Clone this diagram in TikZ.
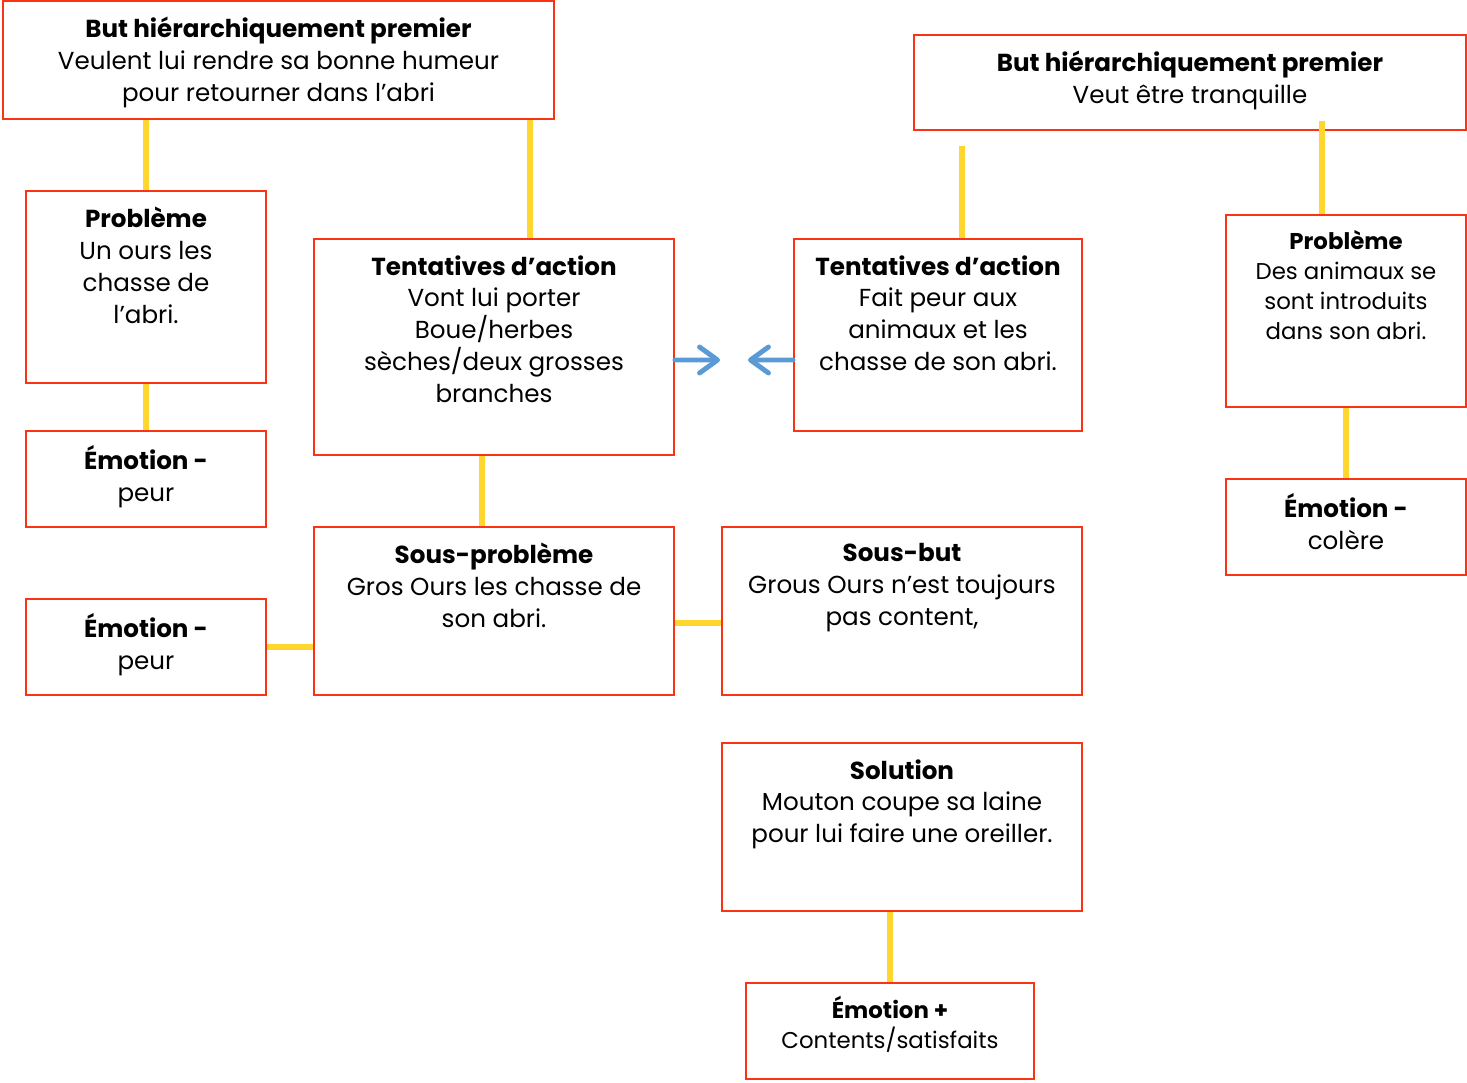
\documentclass[tikz,border=0pt]{standalone}
\usepackage{fontspec}
\setmainfont{Poppins}
\usepackage{tikz}
\usetikzlibrary{arrows.meta}

\definecolor{boxred}{RGB}{250,52,18}
\definecolor{linkyellow}{RGB}{255,214,46}
\definecolor{arrowblue}{RGB}{91,155,213}

\tikzset{
    box/.style={draw=boxred, line width=1.1pt, fill=white, inner sep=0pt},
    txt/.style={align=center, anchor=north, inner sep=0pt, font=\fontsize{14}{18.1}\selectfont},
    smalltxt/.style={txt, font=\fontsize{13}{17}\selectfont},
    link/.style={draw=linkyellow, line width=3.3pt},
    push/.style={draw=arrowblue, line width=2.8pt, line cap=round,
        -{Straight Barb[round, length=0.36cm, width=0.52cm]}}
}

\begin{document}
\begin{tikzpicture}[x=0.02cm, y=-0.02cm]
        \useasboundingbox (0,0) rectangle (1467,1082);

        % left story
        \node[box, minimum width=11.02cm, minimum height=2.36cm] (but1) at (278.5,60) {};
        \node[box, minimum width=4.8cm, minimum height=3.84cm] (pb1) at (146,287) {};
        \node[box, minimum width=4.8cm, minimum height=1.92cm] (emo1) at (146,479) {};
        \node[box, minimum width=7.2cm, minimum height=4.32cm] (tent1) at (494,347) {};
        \node[box, minimum width=7.2cm, minimum height=3.36cm] (sousprob) at (494,611) {};
        \node[box, minimum width=4.8cm, minimum height=1.92cm] (emo2) at (146,647) {};
        \node[box, minimum width=7.2cm, minimum height=3.36cm] (sousbut) at (902,611) {};
        \node[box, minimum width=7.2cm, minimum height=3.36cm] (sol) at (902,827) {};
        \node[box, minimum width=5.76cm, minimum height=1.92cm] (emo4) at (890,1031) {};

        % right story
        \node[box, minimum width=11.04cm, minimum height=1.9cm] (but2) at (1190,82.5) {};
        \node[box, minimum width=5.76cm, minimum height=3.84cm] (tent2) at (938,335) {};
        \node[box, minimum width=4.8cm, minimum height=3.84cm] (pb2) at (1346,311) {};
        \node[box, minimum width=4.8cm, minimum height=1.92cm] (emo3) at (1346,527) {};

        % texts
        \node[txt] (but1t) at ([yshift=-0.34cm]but1.north)
            {\textbf{But hiérarchiquement premier}\\Veulent lui rendre sa bonne humeur\\pour retourner dans l’abri};
        \node[txt] (pb1t) at ([yshift=-0.34cm]pb1.north)
            {\textbf{Problème}\\Un ours les\\chasse de\\l’abri.};
        \node[txt] (emo1t) at ([yshift=-0.3cm]emo1.north) {\textbf{Émotion -}\\peur};
        \node[txt] (tent1t) at ([yshift=-0.34cm]tent1.north)
            {\textbf{Tentatives d’action}\\Vont lui porter\\Boue/herbes\\sèches/deux grosses\\branches};
        \node[txt] (sousprobt) at ([yshift=-0.34cm]sousprob.north)
            {\textbf{Sous-problème}\\Gros Ours les chasse de\\son abri.};
        \node[txt] (emo2t) at ([yshift=-0.3cm]emo2.north) {\textbf{Émotion -}\\peur};
        \node[txt] (sousbutt) at ([yshift=-0.34cm]sousbut.north)
            {\textbf{Sous-but}\\Grous Ours n’est toujours\\pas content,};
        \node[txt] (solt) at ([yshift=-0.34cm]sol.north)
            {\textbf{Solution}\\Mouton coupe sa laine\\pour lui faire une oreiller.};
        \node[smalltxt] (emo4t) at ([yshift=-0.28cm]emo4.north) {\textbf{Émotion +}\\Contents/satisfaits};
        \node[txt] (but2t) at ([yshift=-0.34cm]but2.north)
            {\textbf{But hiérarchiquement premier}\\Veut être tranquille};
        \node[txt] (tent2t) at ([yshift=-0.34cm]tent2.north)
            {\textbf{Tentatives d’action}\\Fait peur aux\\animaux et les\\chasse de son abri.};
        \node[smalltxt] (pb2t) at ([yshift=-0.32cm]pb2.north)
            {\textbf{Problème}\\Des animaux se\\sont introduits\\dans son abri.};
        \node[txt] (emo3t) at ([yshift=-0.3cm]emo3.north) {\textbf{Émotion -}\\colère};

        % yellow links
        \draw[link] (pb1.north) -- (pb1.north |- but1.south);
        \draw[link] ([xshift=0.72cm]tent1.north) -- ([xshift=0.72cm]tent1.north |- but1.south);
        \draw[link] (pb1.south) -- (emo1.north);
        \draw[link] ([xshift=-0.24cm]tent1.south) -- ([xshift=-0.24cm]sousprob.north);
        \draw[link] (emo2.east) -- (emo2.east -| sousprob.west);
        \draw[link] ([yshift=-0.24cm]sousprob.east) -- ([yshift=-0.24cm]sousprob.east -| sousbut.west);
        \draw[link, shorten >=0.3cm] ([xshift=0.48cm]tent2.north) -- ([xshift=0.48cm]tent2.north |- but2.south);
        \draw[link, shorten >=-0.2cm] ([xshift=-0.48cm]pb2.north) -- ([xshift=-0.48cm]pb2.north |- but2.south);
        \draw[link] (pb2.south) -- (emo3.north);
        \draw[link] (emo4.north) -- (emo4.north |- sol.south);

        % blue arrows
        \coordinate (gap) at (734,360);
        \draw[push, shorten >=0.28cm] ([yshift=-0.26cm]tent1.east) -- (gap);
        \draw[push, shorten >=0.28cm] ([yshift=-0.5cm]tent2.west) -- (gap);

\end{tikzpicture}
\end{document}
